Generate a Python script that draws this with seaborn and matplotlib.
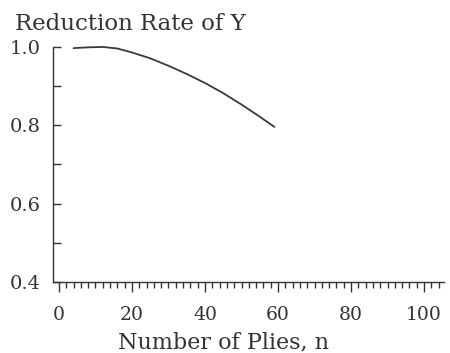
import numpy as np
import pandas as pd
import matplotlib.pyplot as plt
import seaborn as sns
from matplotlib.ticker import MultipleLocator, FixedLocator

# values
plies = [4, 8, 12, 16, 20, 25, 30, 35, 40, 45, 50, 55, 59]
rate = [0.997, 0.999, 1.0, 0.996, 0.986, 0.971, 0.952, 0.931, 0.908, 0.882, 0.853, 0.822, 0.796]
x_labels = [0, 20, 40, 60, 80, 100]
y_labels = [0.4, 0.6, 0.8, 1.0]

df = pd.DataFrame({"n": plies, "rate": rate})

sns.set_style("ticks")
plt.rcParams["font.family"] = ["DejaVu Serif"]
ink = "#333333"

fig = plt.figure(figsize=(4.5, 3.53), dpi=100)
ax = fig.add_axes([0.118, 0.201, 0.869, 0.666])

sns.lineplot(data=df, x="n", y="rate", ax=ax, color="#3a3a3a", linewidth=1.3)
for l in ax.lines:
    l.set_clip_on(False)

ax.set_xlim(-1.6, 105.5)
ax.set_ylim(0.4, 1.0)

sns.despine(ax=ax)
for s in ["left", "bottom"]:
    ax.spines[s].set_color(ink)
    ax.spines[s].set_linewidth(1.0)

ax.xaxis.set_major_locator(FixedLocator(x_labels))
ax.xaxis.set_minor_locator(MultipleLocator(2))
ax.set_xticklabels([str(v) for v in x_labels])
ax.tick_params(axis="x", which="major", direction="out", length=7, width=1, color=ink,
               labelsize=13.5, labelcolor=ink, pad=10)
ax.tick_params(axis="x", which="minor", direction="out", length=4, width=1, color=ink)

ax.yaxis.set_major_locator(FixedLocator(y_labels))
ax.yaxis.set_minor_locator(MultipleLocator(0.1))
ax.set_yticklabels([f"{v:.1f}" for v in y_labels])
ax.tick_params(axis="y", which="both", direction="in", length=6, width=1, color=ink,
               labelsize=14, labelcolor=ink, pad=9)

ax.set_xlabel("")
ax.set_ylabel("")
fig.text(0.496, 5 / 353, "Number of Plies, n", fontsize=16, color=ink,
         ha="center", va="baseline")
fig.text(0.033, 0.915, "Reduction Rate of Y", fontsize=16.5, color=ink, ha="left")

fig.savefig("out.png", dpi=100, facecolor="white")
